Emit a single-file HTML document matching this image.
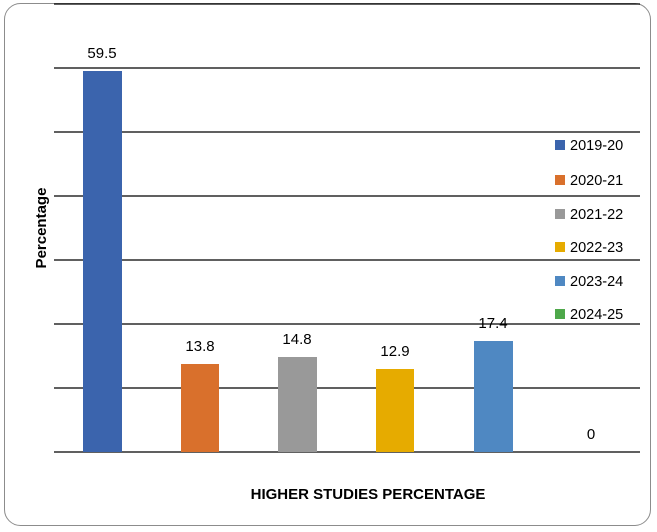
<!DOCTYPE html>
<html><head><style>
body{margin:0;background:#fff;}
svg{display:block;font-family:"Liberation Sans",sans-serif;}
</style></head><body>
<svg width="657" height="532" xmlns="http://www.w3.org/2000/svg">
<rect x="4.5" y="3.5" width="646" height="522" rx="16" fill="#fff" stroke="#8c8c8c" stroke-width="1"/>
<g stroke="#000" stroke-width="1.3">
<line x1="54" x2="640" y1="4" y2="4"/>
<line x1="54" x2="640" y1="68" y2="68"/>
<line x1="54" x2="640" y1="132" y2="132"/>
<line x1="54" x2="640" y1="196" y2="196"/>
<line x1="54" x2="640" y1="260" y2="260"/>
<line x1="54" x2="640" y1="324" y2="324"/>
<line x1="54" x2="640" y1="388" y2="388"/>
<line x1="54" x2="640" y1="452" y2="452"/>
</g>
<rect x="83" y="71" width="39" height="381" fill="#3b64ad"/>
<rect x="181" y="364" width="38" height="88" fill="#d9702c"/>
<rect x="278" y="357" width="39" height="95" fill="#999999"/>
<rect x="376" y="369" width="38" height="83" fill="#e6ab00"/>
<rect x="474" y="341" width="39" height="111" fill="#4f88c2"/>
<g font-size="15" text-anchor="middle" fill="#000">
<text x="102" y="58">59.5</text>
<text x="200" y="351">13.8</text>
<text x="297" y="344">14.8</text>
<text x="395" y="356">12.9</text>
<text x="493" y="328">17.4</text>
<text x="591" y="439">0</text>
</g>
<g font-size="14.5" fill="#000">
<rect x="555" y="140" width="10" height="10" fill="#3b64ad"/><text x="570" y="150">2019-20</text>
<rect x="555" y="175" width="10" height="10" fill="#d9702c"/><text x="570" y="185">2020-21</text>
<rect x="555" y="209" width="10" height="10" fill="#999999"/><text x="570" y="219">2021-22</text>
<rect x="555" y="242" width="10" height="10" fill="#e6ab00"/><text x="570" y="252">2022-23</text>
<rect x="555" y="276" width="10" height="10" fill="#4f88c2"/><text x="570" y="286">2023-24</text>
<rect x="555" y="309" width="10" height="10" fill="#4ea84a"/><text x="570" y="319">2024-25</text>
</g>
<text x="46" y="228" font-size="15" font-weight="bold" text-anchor="middle" transform="rotate(-90 46 228)">Percentage</text>
<text x="368" y="499" font-size="15" font-weight="bold" text-anchor="middle">HIGHER STUDIES PERCENTAGE</text>
</svg>
</body></html>
